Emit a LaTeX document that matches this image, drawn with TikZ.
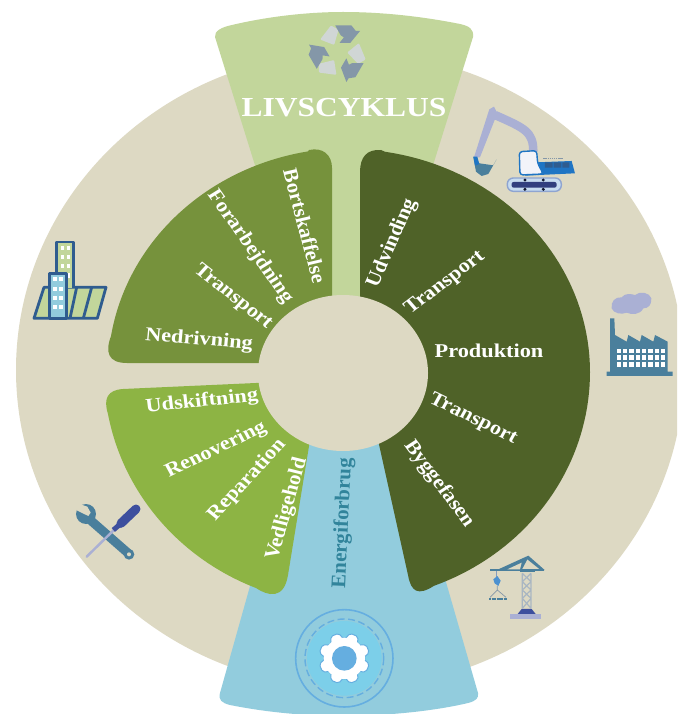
\documentclass[tikz,border=0pt]{standalone}
\usepackage{fontspec}
\setmainfont{Liberation Serif}[BoldFeatures={FakeStretch=1.07}]
\definecolor{beige}{HTML}{DDD9C3}
\definecolor{wdark}{HTML}{4F6228}
\definecolor{wmid}{HTML}{76923C}
\definecolor{wlight}{HTML}{8DB444}
\definecolor{bandgreen}{HTML}{C2D69B}
\definecolor{bandblue}{HTML}{92CCDD}
\definecolor{teal}{HTML}{4A7F9C}
\definecolor{lav}{HTML}{AAB0D4}
\definecolor{royal}{HTML}{1F75C4}
\definecolor{navy}{HTML}{3D4F9E}
\definecolor{bldg}{HTML}{2F5C8F}
\definecolor{gearline}{HTML}{65AEE0}
\definecolor{gearfill}{HTML}{7CCFE9}
\definecolor{recdark}{HTML}{8497A8}
\definecolor{reclight}{HTML}{D0D6D5}
\definecolor{energy}{HTML}{31849B}
\tikzset{
  lbl/.style={text=white,font=\bfseries\fontsize{19.5}{20}\selectfont,inner sep=0pt,xscale=1.07},
  zoomed/.style={x=0.3333pt,y=-0.3333pt},
}
\begin{document}
\begin{tikzpicture}[x=1pt,y=-1pt,line join=round]
\clip (0,0) rectangle (677,714);
\fill[white] (0,0) rectangle (677,714);
\fill[beige] (350,370) ellipse [x radius=334pt,y radius=318pt];
% bands
\fill[bandgreen] (215,37) .. controls (214,31) and (222,27) .. (232,25)
  .. controls (270,16) and (310,12) .. (343,12)
  .. controls (380,12) and (420,16) .. (460,24)
  .. controls (469,26) and (474,29) .. (473,37)
  -- (391,300) -- (297,300) -- cycle;
\fill[bandblue] (220,693) .. controls (218,700) and (222,703) .. (230,705)
  .. controls (270,713) and (310,716) .. (343,716)
  .. controls (380,716) and (430,712) .. (468,703)
  .. controls (476,701) and (479,698) .. (478,693)
  -- (405,440) -- (291,440) -- cycle;
% wedges
\fill[wdark] (360,300) -- (360,172) .. controls (360,157) and (367,149) .. (381,150)
  -- plot[domain=81:0,samples=40] ({347+243*cos(\x)},{372-223*sin(\x)})
  -- plot[domain=0:-69,samples=40] ({347+243*cos(\x)},{372-229*sin(\x)})
  .. controls (418,596) and (411,592) .. (408,575) -- (378,440) -- cycle;
\fill[wmid] (332,300) -- (332,168) .. controls (332,155) and (323,147) .. (309,150)
  -- plot[domain=100:171,samples=50] ({350+242*cos(\x)},{371-223*sin(\x)})
  .. controls (105,352) and (108,363) .. (127,363) -- (300,363) -- cycle;
\fill[wlight] (300,381) -- (123,389) .. controls (108,390) and (103,398) .. (108,414)
  -- plot[domain=190:248,samples=50] ({347+243*cos(\x)},{372-233*sin(\x)})
  .. controls (268,596) and (284,600) .. (288,575) -- (310,440) -- cycle;
\fill[beige] (343,373) ellipse [x radius=85pt,y radius=78pt];
% labels
\node[lbl,rotate=-76] (n1) at (305,226) {Bortskaffelse};
\node[lbl,rotate=-56.5] (n2) at (250,247) {Forarbejdning};
\node[lbl,rotate=-40] (n3) at (233,297) {Transport};
\node[lbl,rotate=-5] (n4) at (199,340) {Nedrivning};
\node[lbl,rotate=6.5] (n5) at (202,402) {Udskiftning};
\node[lbl,rotate=27] (n6) at (216,450) {Renovering};
\node[lbl,rotate=49] (n7) at (247,480) {Reparation};
\node[lbl,rotate=75] (n8) at (287,509) {Vedligehold};
\node[lbl,rotate=67.5] (n9) at (392,243) {Udvinding};
\node[lbl,rotate=39] (n10) at (445,283) {Transport};
\node[lbl] (n11) at (489,351) {Produktion};
\node[lbl,rotate=-27.5] (n12) at (473,419) {Transport};
\node[lbl,rotate=-55] (n13) at (439,484) {Byggefasen};
\node[lbl,rotate=87.5,text=energy] (n14) at (343,523) {Energiforbrug};
\node[lbl,font=\bfseries\fontsize{27.5}{30}\selectfont] (title) at (344,108) {LIVSCYKLUS};
% recycle icon
\foreach \r in {0,120,240}{
\begin{scope}[shift={(338.5,52.5)},rotate=\r,scale=1.08]
  \fill[reclight,rounded corners=1pt] (-17,-12) -- (-7,-25) -- (0,-21) -- (-4,-7) -- cycle;
  \fill[recdark] (-3,-25) -- (12,-25) -- (16,-20) -- (20,-20) -- (11,-9) -- (1,-9) -- (5,-14) -- (2,-16) -- cycle;
\end{scope}}
% excavator (zoom 1 coordinates)
\begin{scope}[shift={(200,0)},zoomed]
  \draw[lav,line width=8.5pt] (1000,455) .. controls (1000,395) and (975,385) .. (885,345);
  \fill[lav] (868,328) -- (882,320) -- (892,340) -- (840,472) -- (822,472) -- cycle;
  \fill[teal] (820,470) -- (828,515) -- (845,528) -- (865,522) -- (890,478) -- (880,496) -- (838,490) -- cycle;
  \fill[royal] (820,470) -- (832,470) -- (838,492) -- (825,497) -- cycle;
  \fill[royal] (985,488) -- (1115,483) -- (1125,520) -- (975,527) -- cycle;
  \draw[royal,line width=1.4pt,fill=white!85!lav,rounded corners=3pt] (958,455) -- (1010,452) -- (1013,490) -- (1030,522) -- (960,525) -- cycle;
  \fill[bldg] (1035,487) rectangle (1058,503) (1061,487) rectangle (1084,503) (1087,487) rectangle (1108,503);
  \draw[recdark,line width=1.5pt,dash pattern=on 1.5pt off 0.6pt] (1030,475) -- (1090,475);
  \draw[lav!80!royal,line width=1.4pt,fill=royal!25!white,rounded corners=6pt] (922,534) rectangle (1084,574);
  \fill[navy!80!black,rounded corners=2pt] (935,546) rectangle (1070,563);
  \foreach \x in {975,1030}{\fill[black!70!navy] (\x,540) circle (5) (\x,568) circle (5);}
\end{scope}
% factory (zoom 3 coordinates)
\begin{scope}[shift={(590,280)},zoomed]
  \fill[lav] (65,85) .. controls (62,65) and (75,50) .. (95,52) .. controls (105,38) and (125,42) .. (135,45)
    .. controls (150,32) and (180,38) .. (184,55) .. controls (185,75) and (175,85) .. (160,85)
    .. controls (150,105) and (125,105) .. (110,98) .. controls (95,105) and (70,100) .. (65,85) -- cycle;
  \fill[teal] (60,115) -- (73,115) -- (75,165) -- (110,185) -- (115,165) -- (150,185) -- (155,165) -- (190,185) -- (195,165) -- (233,185) -- (233,275) -- (248,275) -- (248,288) -- (50,288) -- (50,275) -- (60,275) -- cycle;
  \foreach \x in {80,99,118,137,156,175,194,212}{\foreach \y in {206,226,247}{
    \fill[white] (\x,\y) rectangle ++(13,13);}}
\end{scope}
% crane (zoom 4 coordinates)
\begin{scope}[shift={(470,540)},zoomed]
  \draw[lav!60!teal,line width=1pt] (80,92) -- (80,115);
  \fill[royal!80!white] (70,118) -- (82,108) -- (92,122) -- (85,138) -- (74,130) -- cycle;
  \draw[recdark,line width=0.7pt] (82,138) -- (82,150) (82,150) -- (60,172) (82,150) -- (108,172);
  \draw[teal,line width=2pt,dash pattern=on 2pt off 0.4pt] (58,178) -- (110,178);
  \draw[recdark!70!white,line width=1.2pt] (157,100) -- (157,205) (183,100) -- (183,205)
     (157,100) -- (183,125) -- (157,150) -- (183,175) -- (157,205) (183,100) -- (157,125) -- (183,150) -- (157,175) -- (183,205);
  \draw[teal,line width=2pt] (60,91) -- (222,91);
  \fill[teal] (85,88) -- (175,47) -- (224,90) -- (212,90) -- (172,58) -- (155,90) -- cycle;
  \fill[beige] (112,88) -- (155,68) -- (150,88) -- cycle;
  \fill[teal] (150,88) -- (195,88) -- (195,97) -- (150,97) -- cycle;
  \fill[navy] (155,207) -- (185,207) -- (197,222) -- (143,222) -- cycle;
  \fill[lav] (120,222) rectangle (213,237);
\end{scope}
% tools (zoom 5 coordinates)
\begin{scope}[shift={(60,490)},zoomed]
  \draw[teal,line width=9pt,line cap=round] (85,85) -- (205,190);
  \fill[teal] (78,72) circle (30);
  \fill[beige] (85,78) -- (48,60) -- (58,42) -- (82,50) -- (92,68) -- cycle;
  \fill[teal] (207,193) circle (16);
  \fill[beige] (207,193) circle (6);
  \draw[lav,line width=2.4pt,line cap=round] (80,200) -- (170,112);
  \draw[navy,line width=9pt,line cap=round] (183,100) -- (228,57);
  \draw[navy,line width=5pt] (160,120) -- (180,103);
\end{scope}
% buildings (zoom 2 coordinates)
\begin{scope}[shift={(20,220)},zoomed]
  \draw[bldg,line width=2.8pt,fill=bandgreen] (72,202) -- (258,202) -- (232,295) -- (42,295) -- cycle;
  \draw[bldg,line width=2.8pt] (150,295) -- (170,202) (190,295) -- (215,202);
  \draw[bldg,line width=2.8pt,fill=bandgreen] (110,205) -- (110,66) -- (160,66) -- (160,205);
  \foreach \x in {122,140}{\foreach \y in {78,104,132,160}{\fill[white] (\x,\y) rectangle ++(10,13);}}
  \draw[bldg,line width=2.8pt,fill=bandblue] (88,295) -- (88,160) -- (140,160) -- (140,295) -- cycle;
  \foreach \x in {100,118}{\foreach \y in {170,200,228,255}{\fill[white] (\x,\y) rectangle ++(10,13);}}
\end{scope}
% gear (zoom 6 coordinates)
\begin{scope}[shift={(220,590)},zoomed]
  \draw[gearline,line width=1.6pt] (373,205) circle (146);
  \fill[gearfill] (373,205) circle (112);
  \draw[gearline,line width=1.4pt,dash pattern=on 7pt off 3.5pt] (373,205) circle (118);
  \fill[gearline] (373,205) circle (63);
  \foreach \a in {22.5,67.5,...,337.5}{
    \begin{scope}[shift={(373,205)},rotate=\a]
      \draw[gearline,line width=1pt,fill=white,rounded corners=2pt] (-20,-55) -- (-13,-76) -- (13,-76) -- (20,-55) -- cycle;
    \end{scope}}
  \fill[white] (373,205) circle (62);
  \fill[gearline] (373,205) circle (37);
\end{scope}
\end{tikzpicture}
\end{document}
